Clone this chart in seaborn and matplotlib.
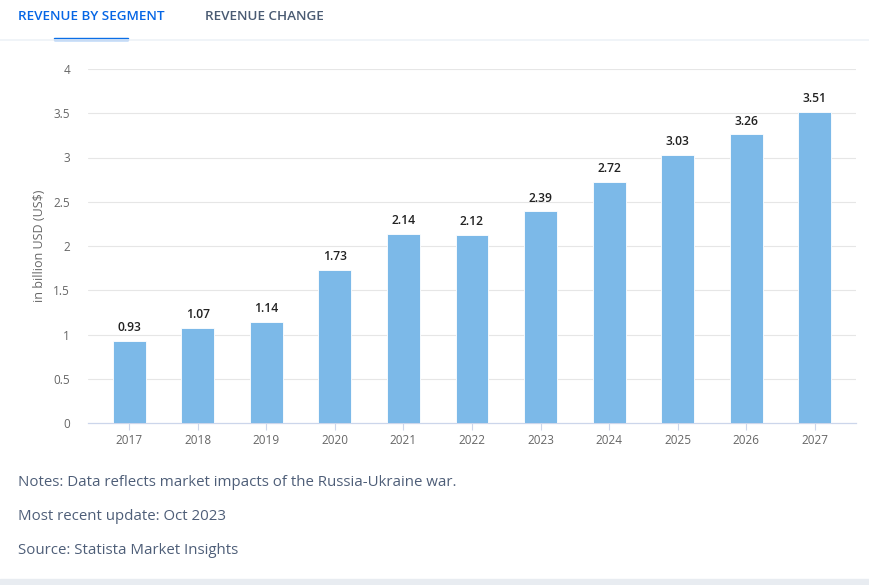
import numpy as np
import pandas as pd
import matplotlib.pyplot as plt
import seaborn as sns
from matplotlib.patches import Rectangle
from matplotlib.lines import Line2D

years = ['2017', '2018', '2019', '2020', '2021', '2022', '2023', '2024', '2025', '2026', '2027']
revenue = [0.93, 1.07, 1.14, 1.73, 2.14, 2.12, 2.39, 2.72, 3.03, 3.26, 3.51]
y_ticks = [0, 0.5, 1, 1.5, 2, 2.5, 3, 3.5, 4]
y_tick_labels = ['0', '0.5', '1', '1.5', '2', '2.5', '3', '3.5', '4']
notes = ['Notes: Data reflects market impacts of the Russia-Ukraine war.',
         'Most recent update: Oct 2023',
         'Source: Statista Market Insights']

df = pd.DataFrame({'year': years, 'revenue': revenue})

sns.set_theme(style='white')
plt.rcParams['font.family'] = ['Open Sans', 'DejaVu Sans']

W, H = 869, 585
fig = plt.figure(figsize=(W / 100, H / 100), dpi=100)
fig.patch.set_facecolor('white')

ax = fig.add_axes([88 / W, 1 - 423 / H, (856 - 88) / W, (423 - 69) / H])

sns.barplot(data=df, x='year', y='revenue', color='#7cb9e8', width=0.48,
            saturation=1, edgecolor='white', linewidth=0.6, ax=ax, zorder=3)

ax.set_ylim(0, 4)
ax.set_xlim(-0.6, len(years) - 0.4)
ax.set_yticks(y_ticks)
ax.set_yticklabels(y_tick_labels)
for t in y_ticks[1:]:
    ax.axhline(t, color='#e6e6e6', linewidth=0.8, zorder=1)

for s in ['top', 'right', 'left']:
    ax.spines[s].set_visible(False)
ax.spines['bottom'].set_color('#ccd6eb')
ax.spines['bottom'].set_linewidth(0.9)

ax.tick_params(axis='y', length=0, pad=13, labelsize=8.5, labelcolor='#666666')
ax.tick_params(axis='x', length=5, width=0.8, color='#ccd6eb', pad=3,
               labelsize=8.5, labelcolor='#666666', bottom=True)
ax.set_xlabel('')
ax.set_ylabel('in billion USD (US$)', fontsize=9, color='#666666', labelpad=5)

for i, v in enumerate(revenue):
    ax.annotate(f'{v:.2f}', (i, v), xytext=(0, 5), textcoords='offset points',
                ha='center', va='bottom', fontsize=8.7, fontweight='semibold',
                color='#222222')

# tabs
fig.text(18 / W, 1 - 16 / H, 'REVENUE BY SEGMENT', fontsize=9.7, fontweight='semibold',
         color='#0666e5', va='center', ha='left')
fig.text(205 / W, 1 - 16 / H, 'REVENUE CHANGE', fontsize=9.7, fontweight='semibold',
         color='#4a5b73', va='center', ha='left')
fig.add_artist(Line2D([0, 1], [1 - 39.5 / H] * 2, color='#eef2f7', linewidth=1.2))
fig.add_artist(Rectangle((54 / W, 1 - 40 / H), 74 / W, 2.5 / H, color='#0a6ee6',
                         transform=fig.transFigure))

# notes
for k, line in enumerate(notes):
    fig.text(18 / W, 1 - (483 + 34 * k) / H, line, fontsize=10.8, color='#4e5e78',
             va='center', ha='left')

# bottom band
fig.add_artist(Rectangle((0, 0), 1, 6 / H, color='#e8ecf1', transform=fig.transFigure))

fig.savefig('out.png', dpi=100, facecolor='white')
